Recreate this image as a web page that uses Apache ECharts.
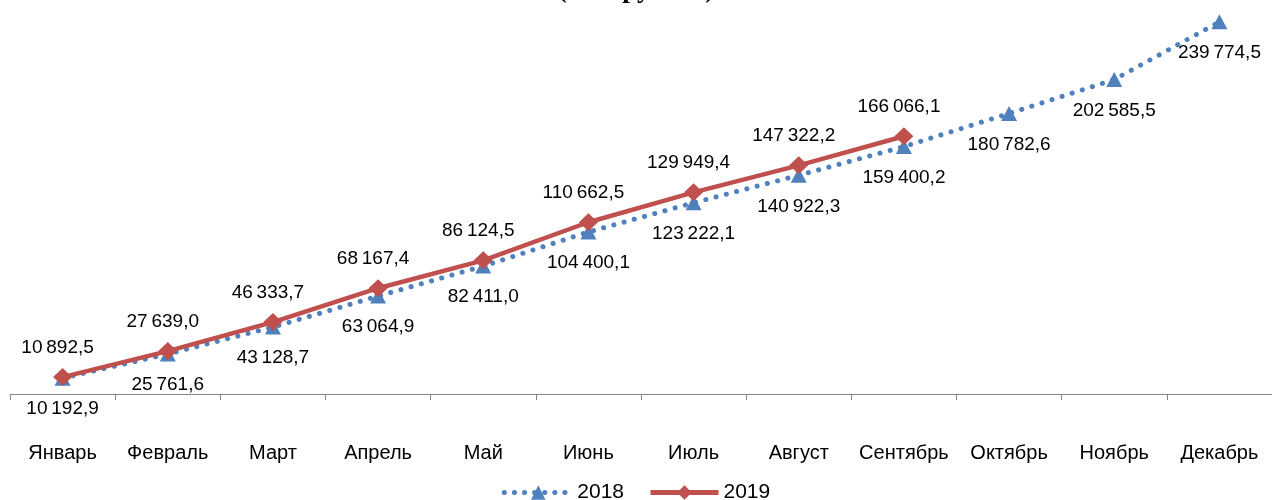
<!DOCTYPE html>
<html>
<head>
<meta charset="utf-8">
<script src="https://cdn.jsdelivr.net/npm/echarts@6/dist/echarts.min.js"></script>
<style>
html,body{margin:0;padding:0;background:#fff;}
#chart{width:1272px;height:500px;}
</style>
</head>
<body>
<div id="chart"></div>
<script>
const titleText = '(млн рублей)';
const months = ['Январь','Февраль','Март','Апрель','Май','Июнь','Июль','Август','Сентябрь','Октябрь','Ноябрь','Декабрь'];
const values2018 = [10192.9, 25761.6, 43128.7, 63064.9, 82411.0, 104400.1, 123222.1, 140922.3, 159400.2, 180782.6, 202585.5, 239774.5];
const values2019 = [10892.5, 27639.0, 46333.7, 68167.4, 86124.5, 110662.5, 129949.4, 147322.2, 166066.1];
const seriesNames = ['2018', '2019'];

function fmt(v) {
  const parts = v.toFixed(1).split('.');
  const intPart = parts[0].replace(/\B(?=(\d{3})+(?!\d))/g, '\u2009');
  return intPart + ',' + parts[1];
}

const chart = echarts.init(document.getElementById('chart'));
const font = 'Liberation Sans, Arial, sans-serif';
const blue = '#4F81BD';
const red = '#C0504D';
chart.setOption({
  animation: false,
  backgroundColor: '#ffffff',
  title: {
    text: titleText,
    left: 'center',
    top: -28,
    textStyle: { fontFamily: 'Liberation Serif, Times New Roman, serif', fontSize: 27, fontWeight: 'bold', color: '#000', lineHeight: 27 }
  },
  grid: { left: 10, right: 0, top: 6, bottom: 106, containLabel: false },
  legend: {
    bottom: -8,
    left: 'center',
    itemWidth: 68,
    itemHeight: 18,
    itemGap: 24,
    textStyle: { fontFamily: font, fontSize: 21, color: '#000' },
    data: [
      { name: seriesNames[0], lineStyle: { width: 5, type: [0.1, 10], cap: 'round', color: blue } },
      { name: seriesNames[1], lineStyle: { width: 5, color: red } }
    ]
  },
  xAxis: {
    type: 'category',
    data: months,
    boundaryGap: true,
    axisLine: { show: true, lineStyle: { color: '#868686', width: 1 } },
    axisTick: { show: true, length: 6, lineStyle: { color: '#868686' } },
    axisLabel: { margin: 49, fontFamily: font, fontSize: 20, color: '#000', interval: 0 }
  },
  yAxis: {
    type: 'value',
    min: 0,
    max: 250000,
    show: false,
    splitLine: { show: false }
  },
  series: [
    {
      name: seriesNames[0],
      type: 'line',
      data: values2018,
      z: 2,
      symbol: 'triangle',
      symbolSize: [16, 15],
      itemStyle: { color: blue },
      lineStyle: { color: blue, width: 5, type: [0.1, 10.5], cap: 'round' },
      label: {
        show: true,
        position: 'bottom',
        distance: 14,
        formatter: p => fmt(p.value),
        fontFamily: font,
        fontSize: 19,
        color: '#000'
      }
    },
    {
      name: seriesNames[1],
      type: 'line',
      data: values2019,
      z: 3,
      symbol: 'diamond',
      symbolSize: [19, 18],
      itemStyle: { color: red },
      lineStyle: { color: red, width: 4.5 },
      label: {
        show: true,
        position: 'top',
        distance: 11,
        offset: [-5, 0],
        formatter: p => fmt(p.value),
        fontFamily: font,
        fontSize: 19,
        color: '#000'
      }
    }
  ]
});
</script>
</body>
</html>
